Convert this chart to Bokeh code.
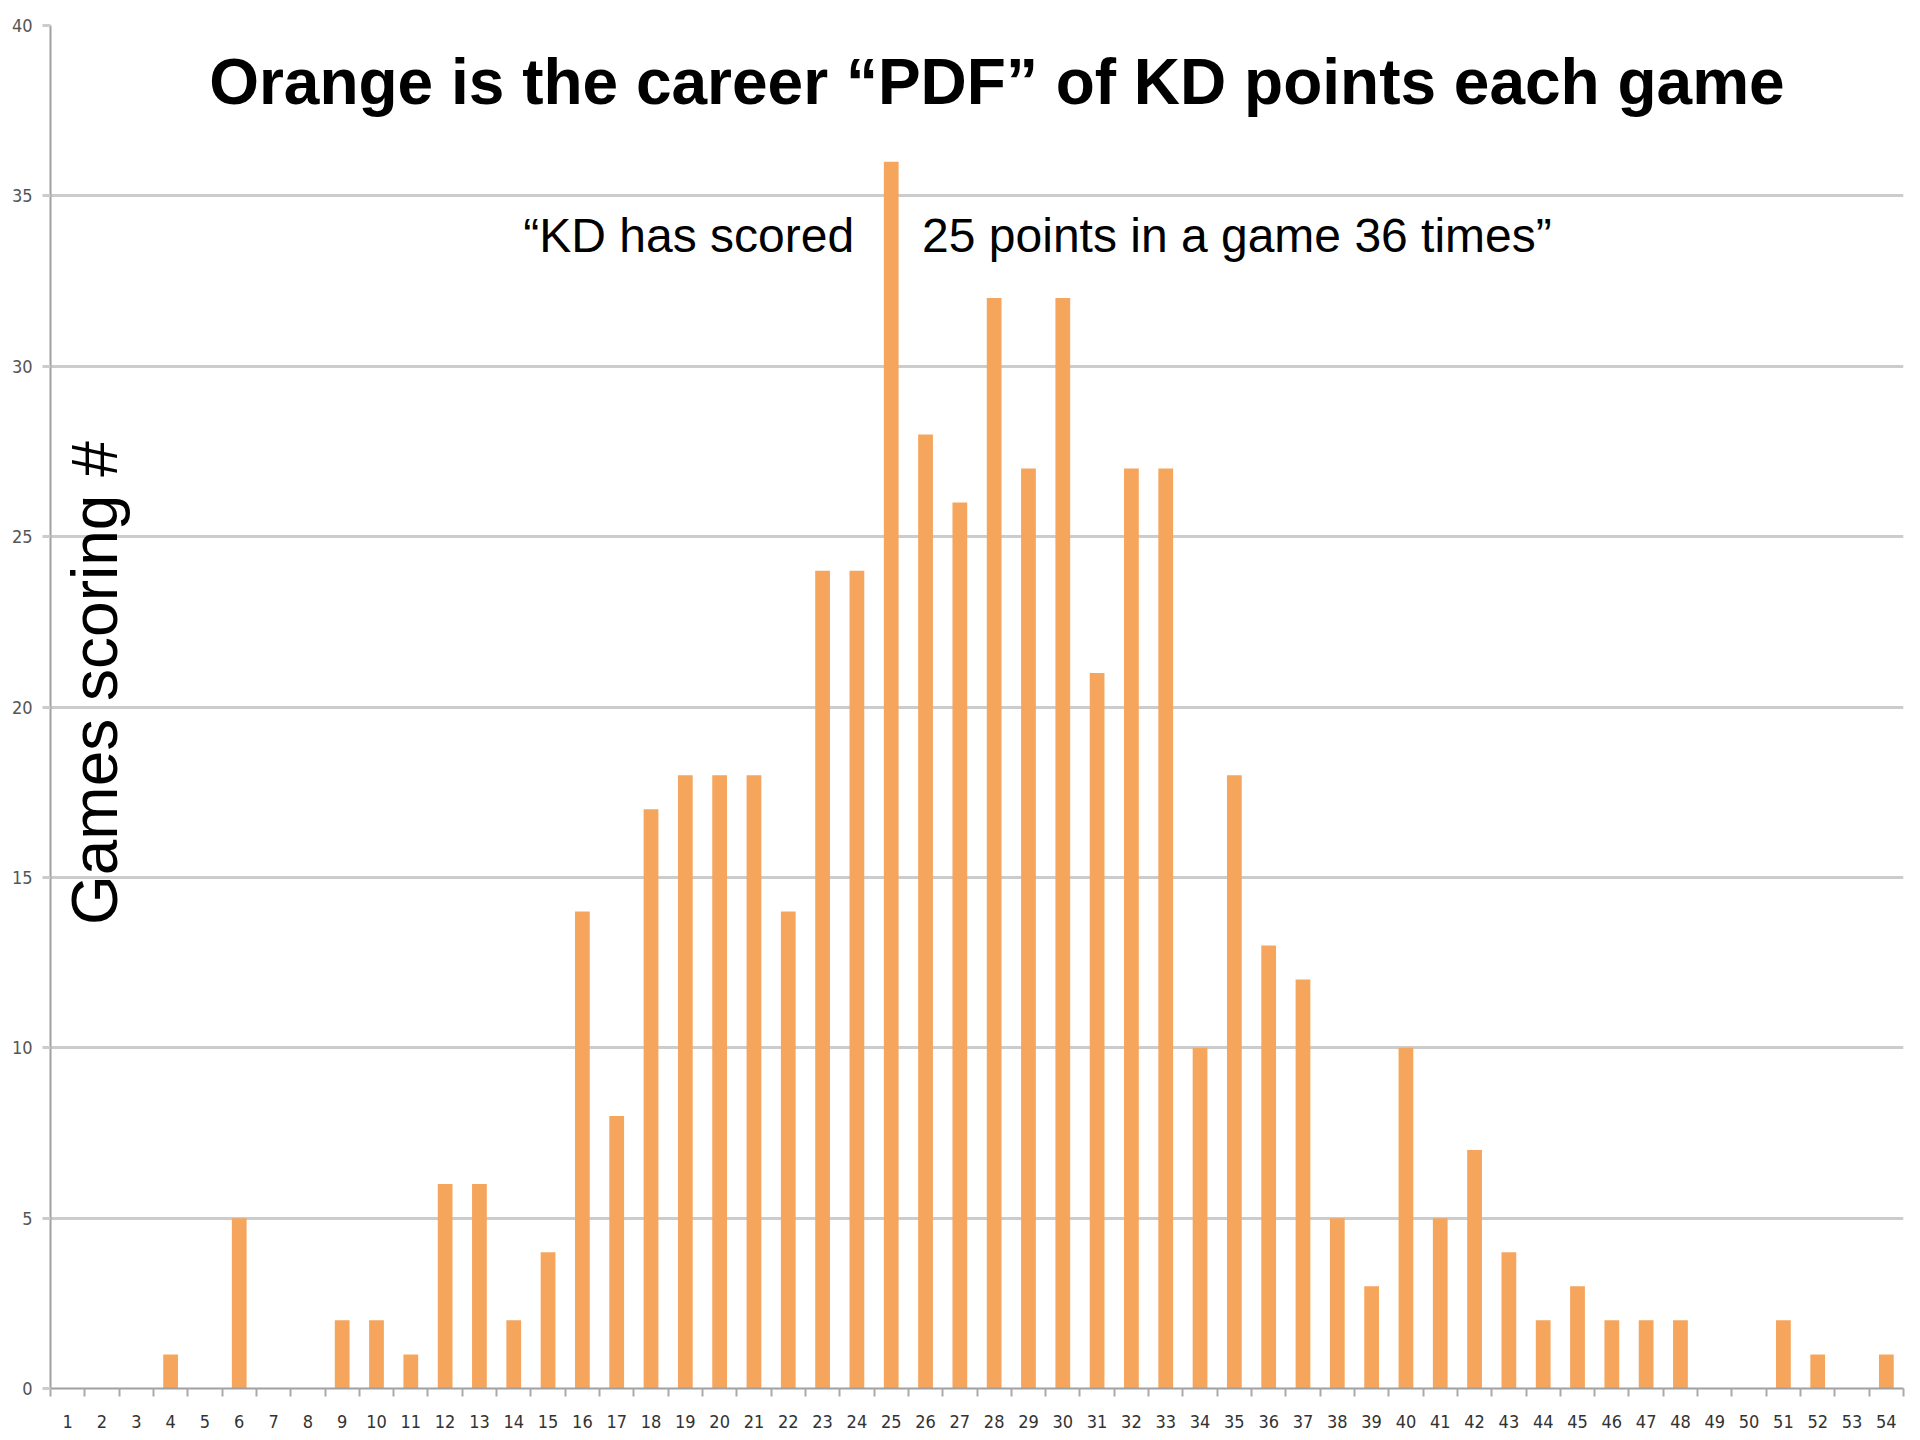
import math
from bokeh.plotting import figure
from bokeh.models import FixedTicker, Range1d, Label
from bokeh.embed import file_html
from bokeh.resources import INLINE

# Points scored in a game (categories)
points = [1, 2, 3, 4, 5, 6, 7, 8, 9, 10, 11, 12, 13, 14, 15, 16, 17, 18, 19, 20,
          21, 22, 23, 24, 25, 26, 27, 28, 29, 30, 31, 32, 33, 34, 35, 36, 37, 38, 39, 40,
          41, 42, 43, 44, 45, 46, 47, 48, 49, 50, 51, 52, 53, 54]
# Number of games with that many points
games = [0, 0, 0, 1, 0, 5, 0, 0, 2, 2, 1, 6, 6, 2, 4, 14, 8, 17, 18, 18,
         18, 14, 24, 24, 36, 28, 26, 32, 27, 32, 21, 27, 27, 10, 18, 13, 12, 5, 3, 10,
         5, 7, 4, 2, 3, 2, 2, 2, 0, 0, 2, 1, 0, 1]
y_ticks = [0, 5, 10, 15, 20, 25, 30, 35, 40]

title_text = "Orange is the career \u201cPDF\u201d of KD points each game"
note_left = "\u201cKD has scored"
note_right = "25 points in a game 36 times\u201d"
ylabel_text = "Games scoring #"

BAR = "#F6A55D"
TICKFONT = "'DejaVu Sans Condensed', 'DejaVu Sans', sans-serif"

p = figure(output_backend="svg", toolbar_location=None,
           frame_width=1853, frame_height=1363,
           min_border_left=50, min_border_top=25, min_border_right=5, min_border_bottom=40,
           x_range=Range1d(0.5, 54.5), y_range=Range1d(0, 40))
p.outline_line_color = None
p.background_fill_color = "white"
p.border_fill_color = "white"

p.vbar(x=points, top=games, width=0.43, bottom=0, fill_color=BAR, line_color=None)

# x axis
xt = FixedTicker(ticks=points, minor_ticks=[v - 0.5 for v in points] + [points[-1] + 0.5])
p.xaxis.ticker = xt
p.xaxis.major_tick_out = 0
p.xaxis.major_tick_in = 0
p.xaxis.minor_tick_out = 8
p.xaxis.minor_tick_in = 0
p.xaxis.minor_tick_line_color = "#aaaaaa"
p.xaxis.minor_tick_line_width = 2
p.xaxis.axis_line_color = "#a0a0a0"
p.xaxis.axis_line_width = 2
p.xaxis.major_label_standoff = 18
p.xaxis.major_label_text_font = TICKFONT
p.xaxis.major_label_text_font_size = "18px"
p.xaxis.major_label_text_color = "#333333"
p.xgrid.grid_line_color = None

# y axis
p.yaxis.ticker = FixedTicker(ticks=y_ticks)
p.yaxis.major_tick_out = 8
p.yaxis.major_tick_in = 0
p.yaxis.major_tick_line_color = "#cccccc"
p.yaxis.major_tick_line_width = 3
p.yaxis.minor_tick_line_color = None
p.yaxis.axis_line_color = "#a0a0a0"
p.yaxis.axis_line_width = 2
p.yaxis.major_label_standoff = 10
p.yaxis.major_label_text_font = TICKFONT
p.yaxis.major_label_text_font_size = "18px"
p.yaxis.major_label_text_color = "#555555"
p.ygrid.grid_line_color = "#cccccc"
p.ygrid.grid_line_width = 3

# texts
p.add_layout(Label(x=28.08, y=38.35, text=title_text, text_align="center",
                   text_baseline="alphabetic", text_font="Liberation Sans",
                   text_font_style="bold", text_font_size="64px", text_color="black"))
p.add_layout(Label(x=23.92, y=33.85, text=note_left, text_align="right",
                   text_baseline="alphabetic", text_font="Liberation Sans",
                   text_font_size="48px", text_color="black"))
p.add_layout(Label(x=25.9, y=33.85, text=note_right, text_align="left",
                   text_baseline="alphabetic", text_font="Liberation Sans",
                   text_font_size="48px", text_color="black"))
p.add_layout(Label(x=1.8, y=20.7, text=ylabel_text, angle=math.pi / 2,
                   text_align="center", text_baseline="middle",
                   text_font="Liberation Sans", text_font_size="64px", text_color="black"))

open("out.html", "w").write(file_html(p, INLINE))
